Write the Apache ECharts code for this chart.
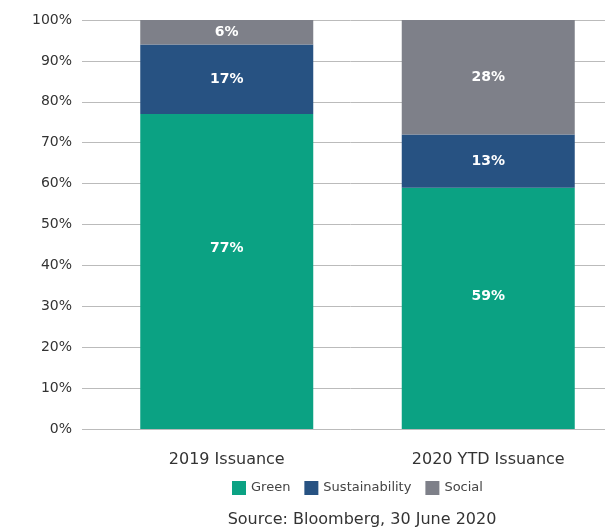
<!DOCTYPE html>
<html>
<head>
<meta charset="utf-8">
<script src="https://cdn.jsdelivr.net/npm/echarts@6/dist/echarts.min.js"></script>
<style>
  html, body { margin: 0; padding: 0; background: #fff; overflow: hidden; }
  /* a bit wider than the window: the original plot runs past the right edge */
  #chart { width: 619px; height: 530px; }
</style>
</head>
<body>
<div id="chart"></div>
<script>
  var categories = ['2019 Issuance', '2020 YTD Issuance'];
  var green = [77, 59];
  var sustainability = [17, 13];
  var social = [6, 28];
  var yTicks = [0, 100, 10];

  var font = '"DejaVu Sans", sans-serif';
  var barLabel = {
    show: true,
    position: 'inside',
    formatter: '{c}%',
    color: '#fff',
    fontSize: 14,
    fontWeight: 'bold',
    fontFamily: font
  };

  // green labels sit a little above the middle of the segment in the original
  var greenData = green.map(function (v, i) {
    return { value: v, label: { offset: [0, i === 0 ? -23 : -12] } };
  });

  var chart = echarts.init(document.getElementById('chart'));
  chart.setOption({
    animation: false,
    title: {
      text: 'Source: Bloomberg, 30 June 2020',
      left: 357,
      textAlign: 'center',
      top: 507,
      textStyle: { fontSize: 16, fontWeight: 'normal', color: '#333', fontFamily: font }
    },
    legend: {
      left: 227,
      top: 476,
      itemWidth: 14,
      itemHeight: 14,
      itemGap: 14,
      icon: 'rect',
      textStyle: { fontSize: 13, color: '#444', fontFamily: font },
      data: ['Green', 'Sustainability', 'Social']
    },
    grid: [
      { left: 82, right: 0, top: 20, bottom: 101 },
      { left: 96, right: 0, top: 20, bottom: 101 }
    ],
    xAxis: [
      { type: 'value', gridIndex: 0, show: false, min: 0, max: 1 },
      {
        type: 'category',
        gridIndex: 1,
        data: categories,
        axisTick: { show: false },
        axisLine: { show: false },
        axisLabel: { margin: 23, fontSize: 16, color: '#333', fontFamily: font }
      }
    ],
    yAxis: [
      {
        type: 'value',
        gridIndex: 0,
        min: yTicks[0],
        max: yTicks[1],
        interval: yTicks[2],
        axisLabel: { formatter: '{value}%', margin: 10, fontSize: 14, color: '#333', fontFamily: font },
        splitLine: { lineStyle: { color: '#bbb', width: 1 } },
        axisLine: { show: false },
        axisTick: { show: false }
      },
      {
        type: 'value',
        gridIndex: 1,
        min: yTicks[0],
        max: yTicks[1],
        show: false
      }
    ],
    series: [
      { name: 'Green', type: 'bar', stack: 'a', barWidth: 173, xAxisIndex: 1, yAxisIndex: 1,
        data: greenData, itemStyle: { color: '#0ba283' }, label: barLabel },
      { name: 'Sustainability', type: 'bar', stack: 'a', xAxisIndex: 1, yAxisIndex: 1,
        data: sustainability, itemStyle: { color: '#275282' }, label: barLabel },
      { name: 'Social', type: 'bar', stack: 'a', xAxisIndex: 1, yAxisIndex: 1,
        data: social, itemStyle: { color: '#7e8089' }, label: barLabel }
    ]
  });
</script>
</body>
</html>
